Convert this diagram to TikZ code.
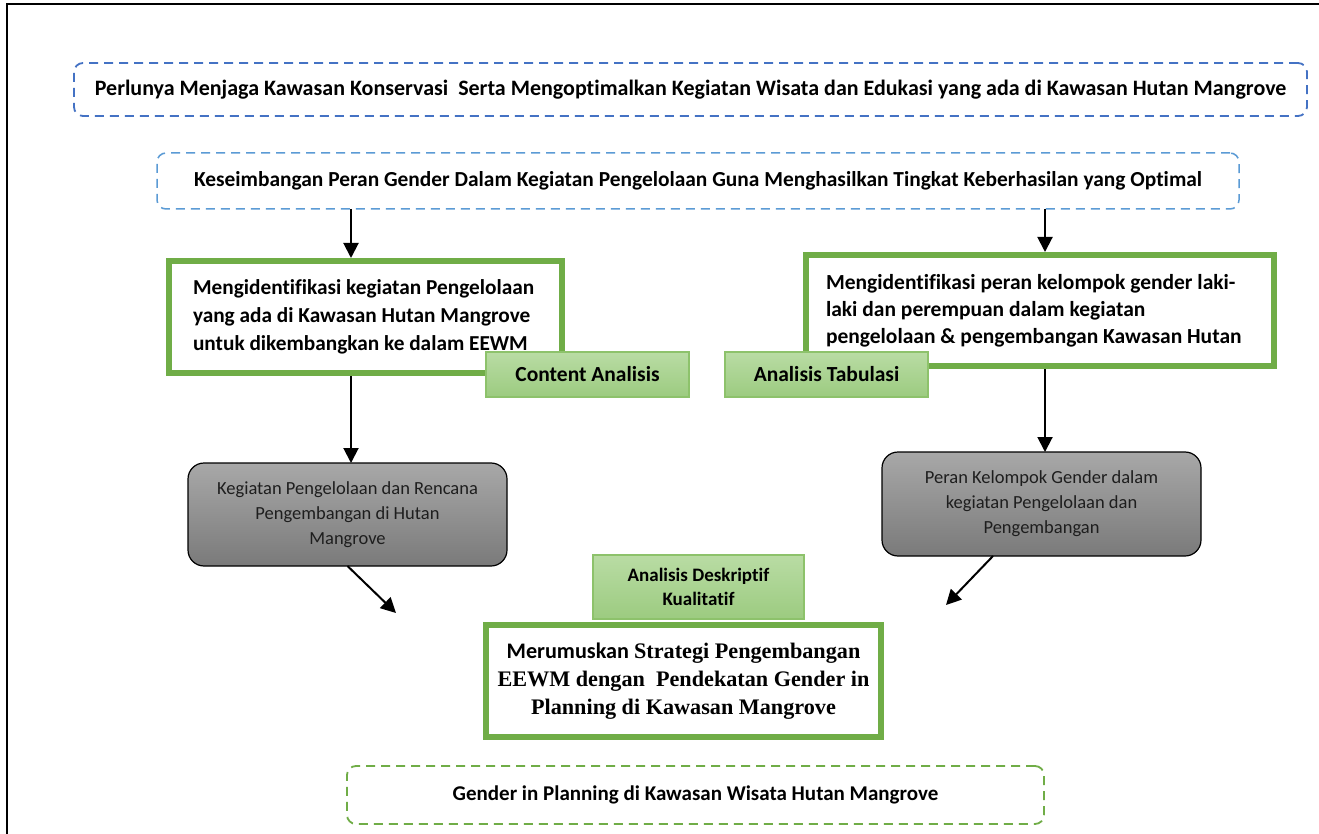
\documentclass[tikz,border=0pt]{standalone}
\usepackage{fontspec}
\setmainfont{Carlito}[Ligatures=NoCommon]
\newfontfamily\tnr{Liberation Serif}
\usetikzlibrary{arrows.meta,calc}
\definecolor{dblue}{HTML}{4472C4}
\definecolor{lblue}{HTML}{5B9BD5}
\definecolor{ggreen}{HTML}{70AD47}
\definecolor{lgtop}{HTML}{B9DCA4}
\definecolor{lgbot}{HTML}{9CCB80}
\definecolor{lgborder}{HTML}{8DC26B}
\definecolor{graytop}{HTML}{A8A8A8}
\definecolor{graybot}{HTML}{7A7A7A}
\definecolor{gtext}{HTML}{1E1E1E}
\tikzset{
  base/.style={inner sep=0pt, outer sep=0pt, align=center},
  dashbox/.style={base, line width=1.8pt, dash pattern=on 9pt off 6pt, rounded corners=9pt,
    font=\fontsize{21.4}{26}\selectfont\bfseries},
  greenbox/.style={base, draw=ggreen, line width=6pt, fill=white},
  lbltag/.style={base, draw=lgborder, line width=1.3pt, top color=lgtop, bottom color=lgbot,
    font=\fontsize{21.5}{26}\selectfont\bfseries},
  graybox/.style={base, draw=black, line width=1.2pt, rounded corners=16pt,
    top color=graytop, bottom color=graybot, text=gtext,
    font=\fontsize{18.5}{25}\selectfont},
  arr/.style={line width=2pt, -{Triangle[length=15pt,width=15pt]}},
}
\begin{document}
\begin{tikzpicture}[x=1pt,y=-1pt]
\useasboundingbox (0,0) rectangle (1319,834);
\fill[white] (0,0) rectangle (1319,834);
\draw[line width=1.6pt] (7,834) -- (7,4) -- (1319,4);

\node[dashbox, draw=dblue, minimum width=1233pt, minimum height=53pt,
  font=\fontsize{22}{26}\selectfont\bfseries] (top) at (690.5,89.5)
  {Perlunya Menjaga Kawasan Konservasi\ \ Serta Mengoptimalkan Kegiatan Wisata dan Edukasi yang ada di Kawasan Hutan Mangrove};

\node[dashbox, draw=lblue, line width=1.5pt, minimum width=1082pt, minimum height=56pt] (kes) at (698,181)
  {Keseimbangan Peran Gender Dalam Kegiatan Pengelolaan Guna Menghasilkan Tingkat Keberhasilan yang Optimal};

\node[greenbox, minimum width=393pt, minimum height=112pt, text width=345pt, align=flush left,
  font=\fontsize{21.3}{28}\selectfont\bfseries] (lg) at (365.5,317)
  {Mengidentifikasi kegiatan Pengelolaan\\ yang ada di Kawasan Hutan Mangrove\\ untuk dikembangkan ke dalam EEWM};

\node[greenbox, minimum width=468pt, minimum height=111pt, text width=428pt, align=flush left,
  font=\fontsize{21.5}{27}\selectfont\bfseries] (rg) at (1040,310.5)
  {Mengidentifikasi peran kelompok gender laki-\\ laki dan perempuan dalam kegiatan\\ pengelolaan \& pengembangan Kawasan Hutan};

\node[lbltag, minimum width=203pt, minimum height=45pt] (ca) at (587.5,374.5) {Content Analisis};
\node[lbltag, minimum width=203pt, minimum height=45pt] (at) at (826.5,374.5) {Analisis Tabulasi};

\node[graybox, minimum width=319pt, minimum height=103pt] (gl) at (347.5,514.5)
  {Kegiatan Pengelolaan dan Rencana\\ Pengembangan di Hutan\\ Mangrove};
\node[graybox, minimum width=319pt, minimum height=104pt] (gr) at (1041.5,504)
  {Peran Kelompok Gender dalam\\ kegiatan Pengelolaan dan\\ Pengembangan};

\node[lbltag, minimum width=211pt, minimum height=64pt, font=\fontsize{19}{24}\selectfont\bfseries] (ad) at (698.5,587)
  {Analisis Deskriptif\\ Kualitatif};

\node[greenbox, minimum width=395pt, minimum height=112pt, font=\fontsize{22.2}{28}\selectfont\bfseries] (cg) at (683.5,681)
  {Merumuskan {\tnr\bfseries Strategi Pengembangan}\\ {\tnr\bfseries EEWM dengan\ \ Pendekatan Gender in}\\ {\tnr\bfseries Planning di Kawasan Mangrove}};

\node[dashbox, draw=ggreen, line width=1.8pt, minimum width=697pt, minimum height=58pt,
  font=\fontsize{21}{24}\selectfont\bfseries] (gp) at (695.5,795)
  {Gender in Planning di Kawasan Wisata Hutan Mangrove};

\coordinate (t1) at (396,613);
\coordinate (t2) at (946,605);

\draw[arr, shorten >=3pt] (351,0 |- kes.south) -- (351,0 |- lg.north);
\draw[arr, shorten >=3pt] (1045,0 |- kes.south) -- (1045,0 |- rg.north);
\draw[arr, shorten <=3pt] (351,0 |- lg.south) -- (351,0 |- gl.north);
\draw[arr, shorten <=3pt] (1045,0 |- rg.south) -- (1045,0 |- gr.north);
\draw[arr] (gl.south) -- (t1);
\draw[arr] ([xshift=-48.5pt]gr.south) -- (t2);
\end{tikzpicture}
\end{document}
